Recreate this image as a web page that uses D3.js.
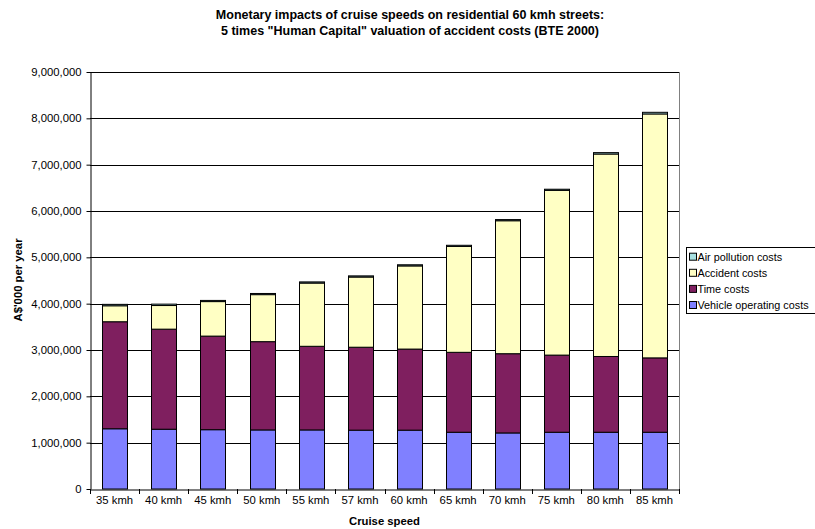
<!DOCTYPE html>
<html><head><meta charset="utf-8">
<script src="https://cdn.jsdelivr.net/npm/d3@7"></script>
<style>body{margin:0;background:#fff}svg{font-family:Arial,"Liberation Sans",sans-serif}</style>
</head><body><div id="c"></div>
<script>
const categories = ["35 kmh","40 kmh","45 kmh","50 kmh","55 kmh","57 kmh","60 kmh","65 kmh","70 kmh","75 kmh","80 kmh","85 kmh"];
const vehicleCosts  = [1300000,1290000,1280000,1275000,1275000,1270000,1270000,1225000,1210000,1225000,1225000,1225000];
const timeCosts     = [2310000,2160000,2020000,1905000,1805000,1790000,1750000,1725000,1710000,1665000,1635000,1605000];
const accidentCosts = [345000,510000,745000,1015000,1365000,1515000,1795000,2285000,2870000,3555000,4370000,5265000];
const airCosts      = [30000,30000,25000,25000,25000,25000,25000,25000,25000,25000,30000,35000];
const seriesNames = ["Vehicle operating costs","Time costs","Accident costs","Air pollution costs"];
const seriesColors = ["#8080ff","#7f1f5f","#ffffc4","#a8e0e0"];
const yTicks = [0,1000000,2000000,3000000,4000000,5000000,6000000,7000000,8000000,9000000];

const W=815,H=529;
const svg=d3.select("#c").append("svg").attr("width",W).attr("height",H);
const L=90,R=679,T=72,B=489;
const x=d3.scaleBand().domain(categories).range([L,R]).paddingInner(0.5).paddingOuter(0.25);
const y=d3.scaleLinear().domain([0,9000000]).range([B,T]);

// grid
svg.append("g").selectAll("line").data(yTicks.slice(1)).join("line")
  .attr("x1",L).attr("x2",R).attr("y1",d=>Math.round(y(d))+0.5).attr("y2",d=>Math.round(y(d))+0.5)
  .attr("stroke","#000").attr("stroke-width",1);
// right border
svg.append("line").attr("x1",R+0.5).attr("x2",R+0.5).attr("y1",T).attr("y2",B).attr("stroke","#808080");

const rows=categories.map((c,i)=>({cat:c,v:vehicleCosts[i],t:timeCosts[i],a:accidentCosts[i],p:airCosts[i]}));
const stack=d3.stack().keys(["v","t","a","p"])(rows);
svg.append("g").selectAll("g").data(stack).join("g").attr("fill",(d,i)=>seriesColors[i])
  .selectAll("rect").data(d=>d).join("rect")
  .attr("x",d=>Math.round(x(d.data.cat))+0.5)
  .attr("width",Math.round(x.bandwidth()))
  .attr("y",d=>y(d[1]))
  .attr("height",d=>y(d[0])-y(d[1]))
  .attr("stroke","#000").attr("stroke-width",1);

const FF="Arial,'Liberation Sans',sans-serif";
// y axis
const ya=svg.append("g").attr("transform",`translate(${L+0.5},0)`)
  .call(d3.axisLeft(y).tickValues(yTicks).tickFormat(d3.format(",")).tickSize(4).tickSizeOuter(0));
ya.select(".domain").attr("stroke","#000");
ya.selectAll("text").attr("font-size",11.3).attr("font-family",FF).attr("fill","#000").attr("x",-9);
// x axis
const xa=svg.append("g").attr("transform",`translate(0,${B+0.5})`)
  .call(d3.axisBottom(x).tickSize(0).tickSizeOuter(0));
xa.select(".domain").attr("stroke","#000");
xa.selectAll("text").attr("font-size",11.3).attr("font-family",FF).attr("fill","#000").attr("dy","1.0em");
// category boundary ticks
svg.append("g").selectAll("line").data(d3.range(categories.length+1)).join("line")
  .attr("x1",i=>Math.round(L+i*(R-L)/categories.length)+0.5).attr("x2",i=>Math.round(L+i*(R-L)/categories.length)+0.5)
  .attr("y1",B).attr("y2",B+5).attr("stroke","#000");

// titles
svg.append("text").attr("x",410).attr("y",19).attr("text-anchor","middle").attr("font-size",12.5).attr("font-weight","bold")
  .text("Monetary impacts of cruise speeds on residential 60 kmh streets:");
svg.append("text").attr("x",410).attr("y",35).attr("text-anchor","middle").attr("font-size",12.5).attr("font-weight","bold")
  .text('5 times "Human Capital" valuation of accident costs (BTE 2000)');
svg.append("text").attr("x",(L+R)/2).attr("y",525).attr("text-anchor","middle").attr("font-size",11.3).attr("font-weight","bold")
  .text("Cruise speed");
svg.append("text").attr("transform",`translate(22,280) rotate(-90)`).attr("text-anchor","middle").attr("font-size",11.3).attr("font-weight","bold")
  .text("A$'000 per year");

// legend
const lg=svg.append("g");
lg.append("rect").attr("x",686.5).attr("y",247.5).attr("width",140).attr("height",66).attr("fill","#fff").attr("stroke","#000");
const order=[3,2,1,0];
order.forEach((si,k)=>{
  const yy=256.7+k*16.1;
  lg.append("rect").attr("x",689.5).attr("y",yy-3.5).attr("width",7).attr("height",7).attr("fill",seriesColors[si]).attr("stroke","#000");
  lg.append("text").attr("x",697.5).attr("y",yy+4).attr("font-size",10.8).text(seriesNames[si]);
});
</script></body></html>
